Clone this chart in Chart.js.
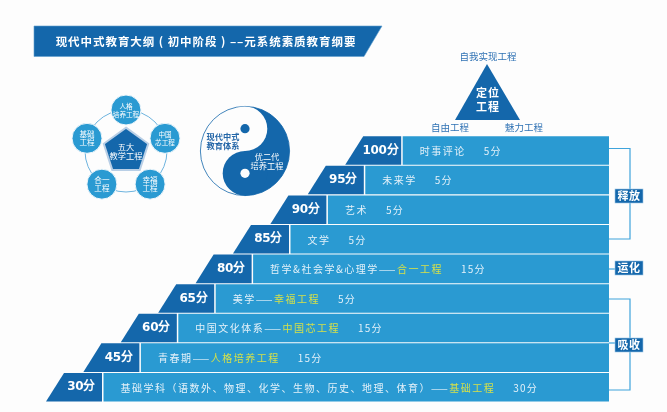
<!DOCTYPE html>
<html lang="zh-CN"><head><meta charset="utf-8">
<style>
html,body{margin:0;padding:0;background:#fdfdfd;width:667px;height:412px;overflow:hidden}
canvas{position:absolute}
</style>
<script src="https://cdn.jsdelivr.net/npm/chart.js@4"></script>
</head><body>
<canvas id="main" width="667" height="412" style="left:0;top:0"></canvas>
<canvas id="penta" width="120" height="120" style="left:66px;top:91px"></canvas>
<canvas id="taichi" width="92" height="92" style="left:199px;top:105px"></canvas>
<script>
const titleText = '现代中式教育大纲 ( 初中阶段 ) ––元系统素质教育纲要';
const scoreLabels = ['100分','95分','90分','85分','80分','65分','60分','45分','30分'];
const topics = ['时事评论','未来学','艺术','文学','哲学&社会学&心理学——','美学——','中国文化体系——','青春期——','基础学科（语数外、物理、化学、生物、历史、地理、体育）——'];
const projects = ['','','','','合一工程','幸福工程','中国芯工程','人格培养工程','基础工程'];
const weights = ['5分','5分','5分','5分','15分','5分','15分','15分','30分'];
const nodeNames = [['人格','培养工程'],['中国','芯工程'],['幸福','工程'],['合一','工程'],['基础','工程']];
const coreLines = ['五大','教学工程'];
const phases = ['释放','运化','吸收'];
const apexLabels = ['自我实现工程','自由工程','魅力工程'];
const apexCore = ['定位','工程'];
const yinYangLines = [['现代中式','教育体系'],['优二代','培养工程']];

const DARK='#1467ab', BLUE='#2a9ad2', LINE='#3fa4dc', PALE='#e4f1f9', YEL='#d4e04a';
const CJK='"Noto Sans CJK SC"';
const STEP=37.4, FOOT=46, DARKW=56, GAP=1.5, RIGHT=609, SLANT=18, INSET=17, SPACING='1.5px';
const n=scoreLabels.length;
const stair=i=>FOOT+STEP*(n-1-i);

function txt(ctx,s,x,y,font,color,align='center',sp='0px'){
  ctx.font=font;ctx.fillStyle=color;ctx.textAlign=align;ctx.textBaseline='middle';ctx.letterSpacing=sp;
  ctx.fillText(s,x,y);ctx.letterSpacing='0px';
}
function poly(ctx,pts,fill,stroke,lw){
  ctx.beginPath();pts.forEach((p,i)=>i?ctx.lineTo(p[0],p[1]):ctx.moveTo(p[0],p[1]));ctx.closePath();
  ctx.fillStyle=fill;ctx.fill();
  if(stroke){ctx.strokeStyle=stroke;ctx.lineWidth=lw||1;ctx.stroke();}
}

const decor={id:'decor',
 beforeDatasetsDraw(chart){
  const ctx=chart.ctx;
  poly(ctx,[[34,26],[382,26],[364,56.5],[34,56.5]],DARK,'#5f9fcf',0.6);
  txt(ctx,titleText,206,42,'bold 11.5px '+CJK,'#fff','center','0.95px');
  // apex triangle
  poly(ctx,[[487,64],[520,120],[455,120]],DARK);
  txt(ctx,apexCore[0],488,93,'bold 11px '+CJK,'#fff','center','1px');
  txt(ctx,apexCore[1],488,107,'bold 11px '+CJK,'#fff','center','1px');
  txt(ctx,apexLabels[0],488,56,'9.5px '+CJK,'#2f72b4');
  txt(ctx,apexLabels[1],450,127,'9.5px '+CJK,'#2f72b4');
  txt(ctx,apexLabels[2],524,127,'9.5px '+CJK,'#2f72b4');
  // bracket lines
  ctx.strokeStyle=LINE;ctx.lineWidth=1.2;
  const path=p=>{ctx.beginPath();p.forEach((q,i)=>i?ctx.lineTo(q[0],q[1]):ctx.moveTo(q[0],q[1]));ctx.stroke();};
  path([[609,148.5],[630,148.5],[630,239],[609,239]]);
  path([[609,269],[617,269]]);
  path([[609,299],[630,299],[630,390],[609,390]]);
  path([[609,343],[617,343]]);
 },
 afterDatasetsDraw(chart){
  const ctx=chart.ctx;
  const dark=chart.getDatasetMeta(0).data, light=chart.getDatasetMeta(1).data;
  dark.forEach((b,i)=>{
    const top=b.y-b.height/2,bot=b.y+b.height/2;
    poly(ctx,[[b.base,bot],[b.base+SLANT,top],[b.x,top],[b.x,bot]],DARK);
    txt(ctx,scoreLabels[i],(b.base+SLANT*0.8+b.x)/2,b.y,'bold 12px "DejaVu Sans"','#fff','center','-0.3px');
  });
  light.forEach((b,i)=>{
    ctx.font='10px '+CJK;ctx.letterSpacing=SPACING;
    let x=b.base+INSET; const y=b.y+0.5;
    txt(ctx,topics[i],x,y,'10px '+CJK,PALE,'left',SPACING);
    ctx.font='10px '+CJK;ctx.letterSpacing=SPACING;
    x+=ctx.measureText(topics[i]).width;
    if(projects[i]){
      txt(ctx,projects[i],x,y,'10px '+CJK,YEL,'left',SPACING);
      ctx.font='10px '+CJK;ctx.letterSpacing=SPACING;
      x+=ctx.measureText(projects[i]).width;
    }
    ctx.letterSpacing='0px';
    txt(ctx,weights[i],x+18,y,'10px '+CJK,PALE,'left','1.2px');
  });
  // phase tags
  [[615,189,phases[0]],[615,261,phases[1]],[615,338,phases[2]]].forEach(t=>{
    ctx.fillStyle=DARK;ctx.fillRect(t[0],t[1],28,14);
    ctx.strokeStyle='#9cc7e6';ctx.lineWidth=0.6;ctx.strokeRect(t[0],t[1],28,14);
    txt(ctx,t[2],t[0]+14,t[1]+7,'bold 11px '+CJK,'#fff','center','0.6px');
  });
 }};

new Chart(document.getElementById('main'),{
 type:'bar',
 data:{labels:scoreLabels,datasets:[
  {label:'分值',data:scoreLabels.map((_,i)=>[stair(i),stair(i)+DARKW]),backgroundColor:'rgba(0,0,0,0)',barPercentage:0.965,categoryPercentage:1},
  {label:'课程',data:scoreLabels.map((_,i)=>[stair(i)+DARKW+GAP,RIGHT]),backgroundColor:BLUE,barPercentage:0.965,categoryPercentage:1}
 ]},
 options:{indexAxis:'y',responsive:false,animation:false,
  layout:{padding:{top:135.7,bottom:10,left:0,right:0}},
  scales:{x:{type:'linear',min:0,max:667,display:false,stacked:false},
          y:{display:false,stacked:true}},
  plugins:{legend:{display:false},tooltip:{enabled:false},title:{display:false}}},
 plugins:[decor]
});

const pentaText={id:'pentaText',afterDatasetsDraw(chart){
  const ctx=chart.ctx,pts=chart.getDatasetMeta(0).data;
  pts.forEach((p,i)=>{
    const f=(Math.max(nodeNames[i][0].length,nodeNames[i][1].length)>2?'6.6':'7.6')+'px '+CJK;
    txt(ctx,nodeNames[i][0],p.x,p.y-4,f,'#fff');
    txt(ctx,nodeNames[i][1],p.x,p.y+4,f,'#fff');
  });
  const c=chart.scales.r;
  txt(ctx,coreLines[0],c.xCenter,c.yCenter-4.5,'8.2px '+CJK,'#fff');
  txt(ctx,coreLines[1],c.xCenter,c.yCenter+5,'8.2px '+CJK,'#fff');
}};
new Chart(document.getElementById('penta'),{
 type:'radar',
 data:{labels:nodeNames.map(a=>a.join('')),datasets:[
  {label:'工程',data:nodeNames.map(()=>1),showLine:false,pointRadius:15,pointBackgroundColor:BLUE,pointBorderColor:'#eef6fb',pointBorderWidth:1,backgroundColor:'rgba(0,0,0,0)',borderWidth:0},
  {label:'五大',data:nodeNames.map(()=>0.57),pointRadius:0,fill:true,backgroundColor:DARK,borderColor:'#b9cfe6',borderWidth:2}
 ]},
 options:{responsive:false,animation:false,
  layout:{padding:19},
  scales:{r:{min:0,max:1,ticks:{display:false,stepSize:1},pointLabels:{display:false},
     angleLines:{display:false},grid:{circular:true,color:'#6db3de',lineWidth:1}}},
  plugins:{legend:{display:false},tooltip:{enabled:false}}},
 plugins:[pentaText]
});

const yinYang={id:'yinYang',afterDatasetsDraw(chart){
  const ctx=chart.ctx,a=chart.getDatasetMeta(0).data[0];
  const {x,y,outerRadius:r}=a;
  const disc=(cx,cy,rr,col)=>{ctx.beginPath();ctx.arc(cx,cy,rr,0,Math.PI*2);ctx.fillStyle=col;ctx.fill();};
  disc(x,y-r/2,r/2,'#fdfdfd');
  disc(x,y+r/2,r/2,DARK);
  disc(x,y-r/2,4.6,DARK);
  disc(x,y+r/2,4.6,'#fdfdfd');
  txt(ctx,yinYangLines[0][0],x-22,y-14,'bold 8.2px '+CJK,'#2567a8');
  txt(ctx,yinYangLines[0][1],x-22,y-5,'bold 8.2px '+CJK,'#2567a8');
  txt(ctx,yinYangLines[1][0],x+22,y+6,'8.2px '+CJK,'#fff');
  txt(ctx,yinYangLines[1][1],x+22,y+15,'8.2px '+CJK,'#fff');
}};
new Chart(document.getElementById('taichi'),{
 type:'pie',
 data:{labels:['优二代','现代中式'],datasets:[{data:[1,1],backgroundColor:[DARK,'#fdfdfd'],borderColor:DARK,borderWidth:0.8}]},
 options:{responsive:false,animation:false,layout:{padding:1},
  plugins:{legend:{display:false},tooltip:{enabled:false}}},
 plugins:[yinYang]
});
</script>
</body></html>
